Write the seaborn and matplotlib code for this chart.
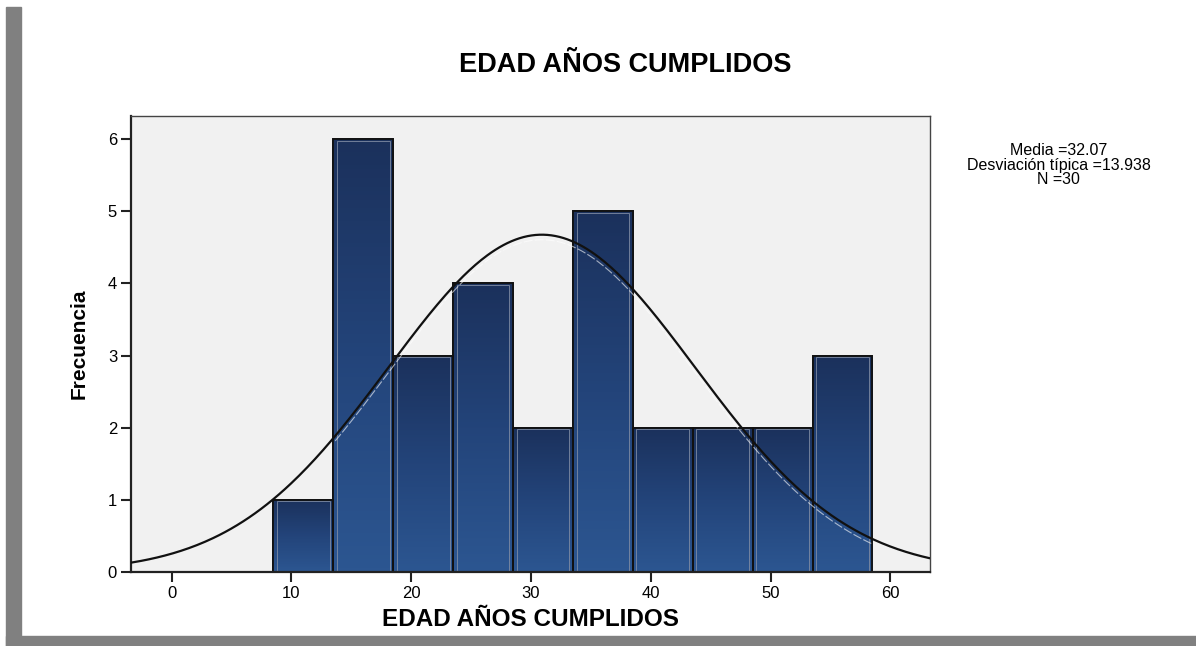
import numpy as np
import pandas as pd
import matplotlib
matplotlib.use("Agg")
import matplotlib.pyplot as plt
from matplotlib.patches import Rectangle
import seaborn as sns

bin_edges = [8.5, 13.5, 18.5, 23.5, 28.5, 33.5, 38.5, 43.5, 48.5, 53.5, 58.5]
frecuencias = [1, 6, 3, 4, 2, 5, 2, 2, 2, 3]
centros = [11, 16, 21, 26, 31, 36, 41, 46, 51, 56]

curva_media = 30.9
curva_sd = 12.8
curva_escala = 150

stats_text = "Media =32.07\nDesviación típica =13.938\nN =30"
titulo = "EDAD AÑOS CUMPLIDOS"
xticks = [0, 10, 20, 30, 40, 50, 60]
yticks = [0, 1, 2, 3, 4, 5, 6]

df = pd.DataFrame({"edad": centros, "frec": frecuencias})

sns.set_style("white")
plt.rcParams['font.family'] = ['Liberation Sans', 'DejaVu Sans']
plt.rcParams['text.color'] = 'black'
plt.rcParams['axes.labelcolor'] = 'black'
plt.rcParams['xtick.color'] = 'black'
plt.rcParams['ytick.color'] = 'black'

fig = plt.figure(figsize=(11.96, 6.46), dpi=100)
ax = fig.add_axes([0.1095, 0.1146, 0.668, 0.7058])
ax.set_facecolor("#f1f1f1")

sns.histplot(data=df, x="edad", weights="frec", bins=bin_edges,
             color="#24467a", edgecolor="#111111", linewidth=1.3,
             alpha=1, ax=ax, zorder=2)

# degradado de las barras (oscuro arriba, mas claro abajo)
grad = np.linspace(1, 0, 100).reshape(-1, 1)
cmap = matplotlib.colors.LinearSegmentedColormap.from_list(
    "barras", ["#1b315c", "#23447a", "#2c5691"])
for p in list(ax.patches):
    x0, w, h = p.get_x(), p.get_width(), p.get_height()
    im = ax.imshow(grad, cmap=cmap, aspect="auto", origin="lower",
                   extent=[x0, x0 + w, 0, h], zorder=2.1)
    im.set_clip_path(p)
    ax.add_patch(Rectangle((x0 + 0.3, 0.02), w - 0.6, h - 0.04, fill=False,
                           edgecolor="#7f8ba3", linewidth=0.6, zorder=2.2))
    ax.add_patch(Rectangle((x0, 0), w, h, fill=False,
                           edgecolor="#111111", linewidth=1.3, zorder=2.3))

xs = np.linspace(-3.4, 63.3, 400)
ys = curva_escala / (curva_sd * np.sqrt(2 * np.pi)) * np.exp(-0.5 * ((xs - curva_media) / curva_sd) ** 2)
ax.plot(xs, ys, color="#111111", linewidth=1.6, zorder=3)
m = (xs > 13.5) & (xs < 58.5)
ax.plot(xs[m], ys[m] - 0.07, color="white", linewidth=0.8, alpha=0.6,
        linestyle=(0, (8, 2)), zorder=3)

ax.set_xlim(-3.4, 63.3)
ax.set_ylim(0, 6.32)
ax.set_xticks(xticks)
ax.set_yticks(yticks)
ax.tick_params(direction="out", length=7, width=1.5, color="#222222",
               labelsize=12, pad=3, bottom=True, left=True)

for s in ["left", "bottom"]:
    ax.spines[s].set_color("#222222")
    ax.spines[s].set_linewidth(1.6)
for s in ["top", "right"]:
    ax.spines[s].set_color("#444444")
    ax.spines[s].set_linewidth(1.0)

ax.set_xlabel(titulo, fontsize=17.5, fontweight="bold", labelpad=5)
ax.set_ylabel("Frecuencia", fontsize=15, fontweight="bold", labelpad=14)

fig.text(0.523, 0.899, titulo, ha="center", va="center",
         fontsize=19.5, fontweight="bold")
fig.text(0.885, 0.778, stats_text, ha="center", va="top",
         fontsize=11.5, linespacing=0.95)

# marco gris de la captura
fig.patches.append(Rectangle((6 / 1196, 0), 15 / 1196, 1 - 7 / 646,
                             transform=fig.transFigure, color="#808080", zorder=0))
fig.patches.append(Rectangle((6 / 1196, 0), 1, 10 / 646,
                             transform=fig.transFigure, color="#808080", zorder=0))

fig.savefig("out.png", dpi=100, facecolor="white")
